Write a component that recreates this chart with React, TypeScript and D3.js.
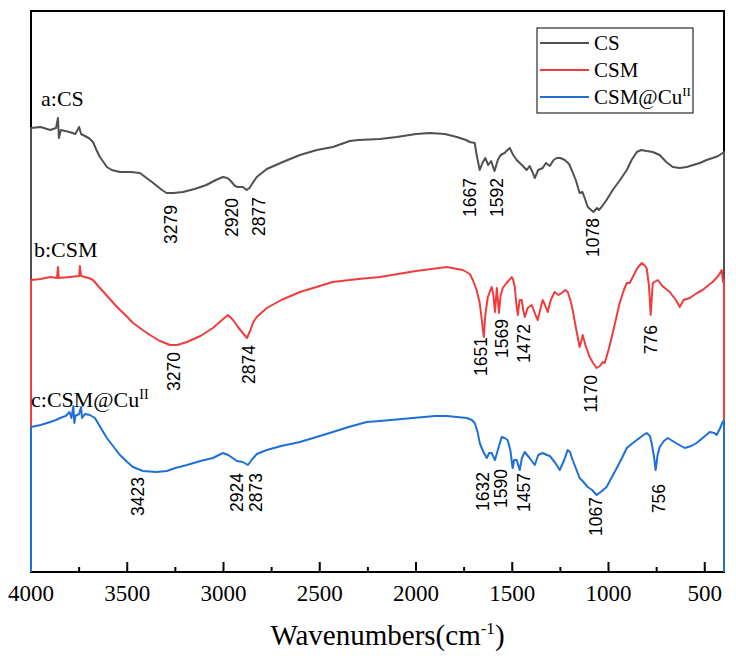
import React from "react";
import * as d3 from "d3";

// ---- data (wavenumber cm^-1, transmittance a.u., offset per curve) ----
const csData: [number, number][] = [
  [4000, 44.4], [3950, 44.5], [3900, 44.2], [3870, 44.4], [3860, 45.4], [3855, 43.4], [3845, 44.2],
  [3800, 44.0], [3770, 43.8], [3750, 44.5], [3740, 43.8], [3700, 43.4], [3678, 43.0], [3660, 42.2],
  [3642, 41.5], [3620, 40.9], [3606, 40.5], [3580, 40.2], [3538, 40.0], [3480, 40.0], [3434, 39.9],
  [3400, 39.4], [3365, 38.9], [3320, 38.2], [3296, 37.9], [3260, 37.9], [3211, 38.0], [3150, 38.3],
  [3089, 38.7], [3040, 39.2], [3003, 39.5], [2980, 39.4], [2967, 39.2], [2940, 38.6], [2925, 38.5],
  [2899, 38.5], [2880, 38.2], [2865, 38.4], [2845, 39.0], [2827, 39.5], [2775, 40.3], [2692, 41.0],
  [2603, 41.7], [2515, 42.2], [2432, 42.5], [2344, 43.1], [2300, 43.2], [2188, 43.3], [2100, 43.5],
  [2000, 43.8], [1928, 43.9], [1850, 43.8], [1788, 43.5], [1740, 43.2], [1720, 43.0], [1695, 42.9],
  [1685, 41.7], [1669, 40.2], [1655, 40.9], [1640, 41.4], [1625, 40.7], [1610, 41.1], [1592, 40.1],
  [1575, 41.2], [1560, 41.7], [1540, 41.9], [1525, 42.2], [1513, 42.4], [1495, 41.7], [1477, 41.2],
  [1450, 40.7], [1425, 40.2], [1410, 40.6], [1395, 40.0], [1383, 39.4], [1365, 40.2], [1342, 40.4],
  [1325, 40.9], [1305, 40.6], [1285, 41.2], [1269, 41.4], [1250, 41.4], [1227, 41.2], [1205, 40.8],
  [1191, 40.2], [1170, 39.2], [1150, 37.9], [1135, 38.0], [1120, 37.2], [1108, 36.5], [1090, 36.2],
  [1078, 36.0], [1060, 36.4], [1050, 36.2], [1036, 36.5], [1010, 37.2], [978, 38.2], [940, 39.2],
  [905, 40.2], [880, 41.2], [853, 42.0], [830, 42.2], [802, 42.1], [770, 42.0], [734, 41.7],
  [700, 41.0], [666, 40.5], [630, 40.4], [594, 40.5], [560, 40.7], [526, 40.9], [490, 41.2],
  [459, 41.4], [430, 41.6], [407, 41.9], [400, 42.0],
];

const csmData: [number, number][] = [
  [4000, 29.2], [3950, 29.3], [3900, 29.5], [3865, 29.4], [3860, 30.5], [3855, 29.4], [3800, 29.5],
  [3750, 29.6], [3746, 30.6], [3740, 29.6], [3700, 29.4], [3678, 29.2], [3642, 28.4], [3600, 27.5],
  [3553, 26.5], [3510, 25.7], [3470, 24.9], [3420, 24.2], [3382, 23.7], [3330, 23.1], [3278, 22.7],
  [3240, 22.7], [3190, 23.0], [3120, 23.6], [3055, 24.4], [3020, 25.0], [2977, 25.7], [2950, 25.2],
  [2925, 24.5], [2900, 23.9], [2878, 23.4], [2860, 24.2], [2845, 25.0], [2827, 25.5], [2775, 26.4],
  [2700, 27.2], [2603, 28.0], [2500, 28.6], [2432, 29.0], [2300, 29.3], [2188, 29.5], [2000, 30.1],
  [1840, 30.5], [1757, 30.2], [1720, 29.8], [1705, 29.2], [1685, 28.2], [1669, 26.9], [1655, 24.7],
  [1648, 23.5], [1640, 25.7], [1627, 27.5], [1607, 28.5], [1598, 27.7], [1590, 26.0], [1580, 28.4],
  [1569, 25.9], [1560, 27.7], [1549, 28.4], [1530, 28.9], [1515, 29.2], [1503, 29.5], [1495, 29.2],
  [1487, 28.5], [1478, 26.7], [1471, 25.7], [1462, 27.2], [1451, 27.2], [1443, 26.2], [1435, 25.5],
  [1420, 26.4], [1399, 26.7], [1385, 26.0], [1368, 25.2], [1355, 26.2], [1342, 27.2], [1330, 26.7],
  [1316, 26.0], [1300, 27.2], [1280, 28.0], [1260, 27.7], [1243, 27.9], [1225, 28.2], [1212, 28.0],
  [1198, 27.2], [1186, 26.2], [1172, 24.7], [1160, 23.5], [1150, 22.5], [1140, 23.2], [1134, 23.7],
  [1120, 22.7], [1098, 21.5], [1080, 20.9], [1062, 20.4], [1045, 20.6], [1030, 21.0], [1020, 20.9],
  [1000, 22.2], [978, 23.9], [960, 25.4], [942, 26.9], [920, 28.2], [905, 28.9], [890, 28.9],
  [874, 29.5], [850, 30.4], [827, 30.9], [810, 30.6], [802, 30.4], [790, 28.7], [781, 25.7],
  [770, 28.9], [744, 29.2], [720, 28.6], [682, 28.0], [650, 27.2], [630, 26.5], [610, 27.2],
  [578, 27.4], [540, 27.9], [511, 28.2], [480, 28.7], [459, 29.0], [430, 29.6], [412, 30.2],
  [405, 29.0], [400, 29.2],
];

const cuData: [number, number][] = [
  [4000, 14.5], [3950, 14.7], [3900, 15.0], [3870, 15.2], [3849, 15.4], [3820, 15.6], [3800, 16.0],
  [3790, 15.4], [3780, 16.6], [3775, 14.9], [3770, 15.6], [3750, 15.8], [3740, 16.5], [3735, 15.4],
  [3720, 15.8], [3694, 15.7], [3668, 15.4], [3640, 14.5], [3606, 13.4], [3570, 12.5], [3538, 11.7],
  [3500, 11.0], [3470, 10.5], [3418, 10.1], [3350, 10.0], [3294, 10.1], [3250, 10.4], [3190, 10.7],
  [3120, 11.1], [3055, 11.4], [3003, 11.9], [2975, 11.7], [2930, 11.1], [2900, 11.0], [2873, 10.7],
  [2850, 11.3], [2827, 11.8], [2775, 12.2], [2700, 12.6], [2603, 13.0], [2500, 13.6], [2432, 14.0],
  [2350, 14.5], [2256, 15.0], [2188, 15.1], [2017, 15.4], [1900, 15.6], [1840, 15.6], [1736, 15.4],
  [1710, 15.2], [1695, 14.9], [1680, 14.0], [1669, 12.9], [1650, 12.0], [1632, 11.4], [1620, 11.9],
  [1607, 11.9], [1590, 11.2], [1575, 12.2], [1555, 13.5], [1540, 13.4], [1524, 13.2], [1510, 12.2],
  [1498, 10.4], [1490, 11.2], [1477, 11.2], [1461, 10.2], [1450, 11.4], [1435, 12.0], [1410, 11.4],
  [1383, 10.7], [1365, 11.7], [1342, 11.9], [1320, 11.7], [1305, 11.6], [1280, 11.0], [1253, 10.2],
  [1230, 11.2], [1212, 12.2], [1200, 12.0], [1186, 11.2], [1170, 10.4], [1150, 9.4], [1130, 9.0],
  [1108, 8.5], [1085, 8.2], [1062, 7.7], [1040, 8.0], [1010, 8.5], [985, 9.4], [957, 10.4],
  [930, 11.4], [905, 12.4], [880, 12.8], [853, 13.2], [825, 13.6], [802, 13.9], [785, 13.6],
  [776, 12.9], [765, 11.7], [755, 10.2], [745, 11.7], [734, 12.5], [712, 13.1], [692, 13.4],
  [650, 12.9], [604, 12.4], [570, 12.6], [542, 12.9], [505, 13.5], [474, 14.0], [450, 13.9],
  [438, 13.7], [420, 14.4], [407, 15.0], [400, 15.2],
];

const seriesNames = ["CS", "CSM", "CSM@Cu"];
const seriesColors = ["#505050", "#ef3d3d", "#1f6fd8"];
const seriesData = [csData, csmData, cuData];

// peak labels: text, placement wavenumber, top value
const csPeaks: [string, number, number][] = [
  ["3279", 3273, 36.7], ["2920", 2956, 37.4], ["2877", 2816, 37.5],
  ["1667", 1720, 39.4], ["1592", 1580, 39.4], ["1078", 1082, 35.4],
];
const csmPeaks: [string, number, number][] = [
  ["3270", 3257, 22.0], ["2874", 2868, 22.7], ["1651", 1663, 23.5], ["1569", 1554, 25.3],
  ["1472", 1440, 24.8], ["1170", 1092, 19.7], ["776", 780, 24.7],
];
const cuPeaks: [string, number, number][] = [
  ["3423", 3447, 9.5], ["2924", 2930, 9.9], ["2873", 2832, 9.9], ["1632", 1655, 10.0],
  ["1590", 1559, 10.3], ["1457", 1440, 9.9], ["1067", 1066, 7.5], ["756", 739, 8.8],
];
const allPeaks = [...csPeaks, ...csmPeaks, ...cuPeaks];

const xTicks = [4000, 3500, 3000, 2500, 2000, 1500, 1000, 500];
const xMinorTicks = [3750, 3250, 2750, 2250, 1750, 1250, 750];

const SERIF = "Liberation Serif, DejaVu Serif, serif";
const SANS = "Liberation Sans, Arial, sans-serif";

export default function App() {
  const W = 736, H = 662;
  const left = 31, right = 724, top = 11, bottom = 572;
  const x = d3.scaleLinear().domain([4000, 400]).range([left, right]);
  const y = d3.scaleLinear().domain([0, 56.1]).range([bottom, top]);
  const line = d3.line<[number, number]>().x(d => x(d[0])).y(d => y(d[1]));
  const serifStyle = { fontFamily: SERIF };
  const sansStyle = { fontFamily: SANS };

  return (
    <svg width={W} height={H} style={{ position: "absolute", left: 0, top: 0, background: "#fff" }}
      xmlns="http://www.w3.org/2000/svg">
      <rect x={0} y={0} width={W} height={H} fill="#fff" />
      {/* frame */}
      <rect x={left} y={top} width={right - left} height={bottom - top} fill="none" stroke="#000" strokeWidth={2} />
      {/* ticks */}
      {xTicks.map(t => (
        <line key={"M" + t} x1={x(t)} x2={x(t)} y1={bottom} y2={bottom - 10} stroke="#000" strokeWidth={2} />
      ))}
      {xMinorTicks.map(t => (
        <line key={"m" + t} x1={x(t)} x2={x(t)} y1={bottom} y2={bottom - 5} stroke="#000" strokeWidth={2} />
      ))}
      {xTicks.map(t => (
        <text key={"l" + t} x={x(t)} y={601} textAnchor="middle" style={serifStyle} fontSize={23} fill="#000">{t}</text>
      ))}
      <text x={(left + right) / 2 + 10} y={645} textAnchor="middle" style={serifStyle} fontSize={29} fill="#000">
        Wavenumbers(cm<tspan dy={-11} fontSize={17}>-1</tspan><tspan dy={11}>)</tspan>
      </text>
      {/* spectra, dropping to the baseline at both ends */}
      {seriesData.map((d, i) => (
        <path key={seriesNames[i]}
          d={line([[d[0][0], 0], ...d, [d[d.length - 1][0], 0]]) || ""}
          fill="none" stroke={seriesColors[i]} strokeWidth={2} strokeLinejoin="round" />
      ))}
      {/* curve captions */}
      <text x={41} y={106} style={serifStyle} fontSize={22} fill="#000">a:CS</text>
      <text x={34} y={257} style={serifStyle} fontSize={22} fill="#000">b:CSM</text>
      <text x={31} y={407} style={serifStyle} fontSize={22} fill="#000">c:CSM@Cu<tspan dy={-8} fontSize={14}>II</tspan></text>
      {/* peak labels */}
      {allPeaks.map(([t, w, v], i) => (
        <text key={"p" + i} transform={`translate(${x(w)},${y(v)}) rotate(-90)`} textAnchor="end" dy="0.35em"
          style={sansStyle} fontSize={17.5} fill="#000">{t}</text>
      ))}
      {/* legend */}
      <rect x={537} y={28} width={156} height={85} fill="#fff" stroke="#000" strokeWidth={1} />
      {seriesNames.map((n, i) => (
        <g key={"lg" + n}>
          <line x1={540} x2={589} y1={43 + i * 27} y2={43 + i * 27} stroke={seriesColors[i]} strokeWidth={2} />
          <text x={594} y={50 + i * 27} style={serifStyle} fontSize={21} fill="#000">
            {n}{i === 2 ? <tspan dy={-8} fontSize={13}>II</tspan> : null}
          </text>
        </g>
      ))}
    </svg>
  );
}
